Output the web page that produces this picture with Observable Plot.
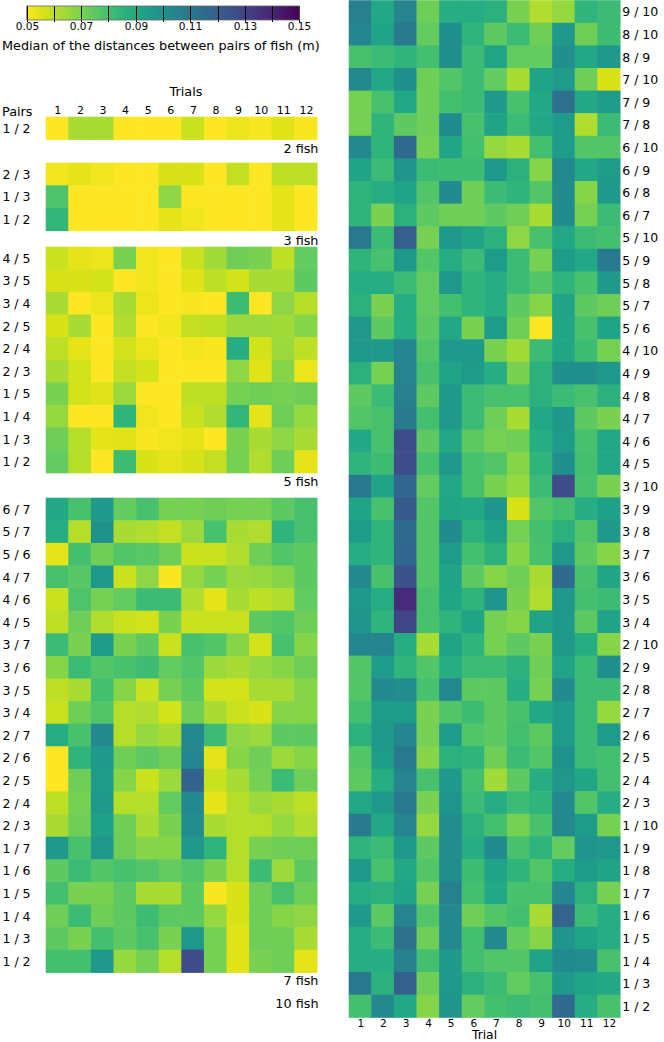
<!DOCTYPE html>
<html>
<head>
<meta charset="utf-8">
<script src="https://cdn.jsdelivr.net/npm/d3@7"></script>
<script src="https://cdn.jsdelivr.net/npm/@observablehq/plot@0.6"></script>
<style>
  html, body { margin: 0; padding: 0; background: #fff; }
  #root { position: relative; width: 664px; height: 1042px; overflow: hidden; font-family: "DejaVu Sans", sans-serif; }
  #root > * { position: absolute; }
</style>
</head>
<body>
<div id="root"></div>
<script>
// ---------------- data ----------------
const trials = [1, 2, 3, 4, 5, 6, 7, 8, 9, 10, 11, 12];

const pairs2 = ["1 / 2"];
const values2 = [
  [0.05, 0.063, 0.063, 0.05, 0.05, 0.05, 0.058, 0.05, 0.053, 0.051, 0.055, 0.051]
];

const pairs3 = ["2 / 3", "1 / 3", "1 / 2"];
const values3 = [
  [0.052, 0.054, 0.052, 0.05, 0.05, 0.056, 0.056, 0.05, 0.059, 0.05, 0.06, 0.06],
  [0.078, 0.05, 0.05, 0.05, 0.05, 0.067, 0.05, 0.05, 0.05, 0.05, 0.054, 0.05],
  [0.084, 0.05, 0.05, 0.05, 0.05, 0.054, 0.052, 0.05, 0.05, 0.05, 0.054, 0.05]
];

const pairs5 = ["4 / 5", "3 / 5", "3 / 4", "2 / 5", "2 / 4", "2 / 3", "1 / 5", "1 / 4", "1 / 3", "1 / 2"];
const values5 = [
  [0.058, 0.054, 0.053, 0.07, 0.052, 0.05, 0.058, 0.064, 0.072, 0.07, 0.06, 0.074],
  [0.056, 0.056, 0.057, 0.05, 0.052, 0.05, 0.055, 0.06, 0.057, 0.063, 0.063, 0.075],
  [0.063, 0.05, 0.053, 0.063, 0.053, 0.05, 0.051, 0.05, 0.081, 0.05, 0.067, 0.061],
  [0.056, 0.063, 0.05, 0.062, 0.05, 0.052, 0.059, 0.06, 0.065, 0.065, 0.064, 0.068],
  [0.06, 0.054, 0.05, 0.057, 0.053, 0.05, 0.052, 0.051, 0.088, 0.057, 0.065, 0.06],
  [0.063, 0.057, 0.05, 0.059, 0.057, 0.05, 0.05, 0.05, 0.067, 0.055, 0.068, 0.053],
  [0.07, 0.057, 0.055, 0.065, 0.05, 0.05, 0.06, 0.06, 0.071, 0.072, 0.071, 0.072],
  [0.066, 0.05, 0.05, 0.085, 0.052, 0.05, 0.058, 0.062, 0.084, 0.054, 0.072, 0.066],
  [0.072, 0.061, 0.054, 0.055, 0.051, 0.052, 0.054, 0.05, 0.07, 0.063, 0.067, 0.063],
  [0.074, 0.061, 0.05, 0.081, 0.056, 0.054, 0.056, 0.059, 0.071, 0.062, 0.072, 0.054]
];

const pairs7 = ["6 / 7", "5 / 7", "5 / 6", "4 / 7", "4 / 6", "4 / 5", "3 / 7", "3 / 6", "3 / 5", "3 / 4",
  "2 / 7", "2 / 6", "2 / 5", "2 / 4", "2 / 3", "1 / 7", "1 / 6", "1 / 5", "1 / 4", "1 / 3", "1 / 2"];
const values7 = [
  [0.09, 0.079, 0.096, 0.074, 0.079, 0.071, 0.071, 0.072, 0.071, 0.071, 0.075, 0.079],
  [0.088, 0.061, 0.099, 0.063, 0.062, 0.059, 0.065, 0.079, 0.063, 0.062, 0.085, 0.079],
  [0.054, 0.08, 0.072, 0.077, 0.076, 0.072, 0.058, 0.058, 0.062, 0.072, 0.077, 0.075],
  [0.079, 0.076, 0.097, 0.058, 0.067, 0.051, 0.066, 0.071, 0.065, 0.066, 0.068, 0.075],
  [0.058, 0.078, 0.071, 0.074, 0.082, 0.082, 0.062, 0.054, 0.063, 0.06, 0.062, 0.074],
  [0.06, 0.072, 0.062, 0.058, 0.057, 0.07, 0.058, 0.058, 0.058, 0.075, 0.077, 0.072],
  [0.082, 0.07, 0.095, 0.07, 0.075, 0.058, 0.079, 0.077, 0.068, 0.057, 0.079, 0.068],
  [0.068, 0.082, 0.077, 0.079, 0.081, 0.074, 0.077, 0.065, 0.063, 0.066, 0.068, 0.072],
  [0.06, 0.063, 0.08, 0.068, 0.058, 0.071, 0.075, 0.057, 0.057, 0.063, 0.063, 0.068],
  [0.058, 0.072, 0.077, 0.061, 0.062, 0.057, 0.072, 0.063, 0.058, 0.056, 0.068, 0.068],
  [0.088, 0.079, 0.103, 0.061, 0.066, 0.063, 0.103, 0.082, 0.067, 0.065, 0.075, 0.075],
  [0.05, 0.085, 0.096, 0.072, 0.075, 0.072, 0.104, 0.054, 0.068, 0.072, 0.065, 0.068],
  [0.05, 0.072, 0.095, 0.068, 0.058, 0.065, 0.119, 0.058, 0.063, 0.071, 0.082, 0.072],
  [0.06, 0.071, 0.096, 0.061, 0.061, 0.074, 0.103, 0.054, 0.061, 0.065, 0.063, 0.06],
  [0.063, 0.072, 0.093, 0.072, 0.063, 0.07, 0.101, 0.063, 0.061, 0.061, 0.066, 0.062],
  [0.096, 0.079, 0.097, 0.072, 0.068, 0.068, 0.097, 0.085, 0.061, 0.07, 0.072, 0.072],
  [0.075, 0.082, 0.077, 0.079, 0.077, 0.074, 0.077, 0.07, 0.061, 0.082, 0.065, 0.075],
  [0.08, 0.07, 0.07, 0.075, 0.063, 0.063, 0.075, 0.051, 0.056, 0.072, 0.079, 0.072],
  [0.072, 0.082, 0.072, 0.075, 0.081, 0.075, 0.075, 0.066, 0.056, 0.072, 0.068, 0.067],
  [0.075, 0.07, 0.08, 0.075, 0.079, 0.07, 0.097, 0.071, 0.055, 0.072, 0.072, 0.063],
  [0.08, 0.08, 0.097, 0.066, 0.071, 0.061, 0.127, 0.071, 0.055, 0.07, 0.072, 0.054]
];

const pairs10 = ["9 / 10", "8 / 10", "8 / 9", "7 / 10", "7 / 9", "7 / 8", "6 / 10", "6 / 9", "6 / 8", "6 / 7",
  "5 / 10", "5 / 9", "5 / 8", "5 / 7", "5 / 6", "4 / 10", "4 / 9", "4 / 8", "4 / 7", "4 / 6", "4 / 5",
  "3 / 10", "3 / 9", "3 / 8", "3 / 7", "3 / 6", "3 / 5", "3 / 4", "2 / 10", "2 / 9", "2 / 8", "2 / 7",
  "2 / 6", "2 / 5", "2 / 4", "2 / 3", "1 / 10", "1 / 9", "1 / 8", "1 / 7", "1 / 6", "1 / 5", "1 / 4",
  "1 / 3", "1 / 2"];
const values10 = [
  [0.107, 0.09, 0.105, 0.072, 0.088, 0.088, 0.086, 0.07, 0.062, 0.066, 0.085, 0.082],
  [0.104, 0.092, 0.109, 0.074, 0.1, 0.085, 0.075, 0.082, 0.072, 0.096, 0.072, 0.081],
  [0.079, 0.082, 0.085, 0.08, 0.1, 0.082, 0.091, 0.074, 0.074, 0.1, 0.09, 0.096],
  [0.103, 0.09, 0.1, 0.072, 0.077, 0.082, 0.074, 0.063, 0.092, 0.095, 0.072, 0.056],
  [0.071, 0.079, 0.09, 0.072, 0.08, 0.082, 0.096, 0.079, 0.09, 0.113, 0.09, 0.095],
  [0.071, 0.085, 0.075, 0.072, 0.102, 0.079, 0.092, 0.082, 0.09, 0.095, 0.062, 0.082],
  [0.103, 0.085, 0.116, 0.071, 0.091, 0.08, 0.066, 0.063, 0.08, 0.095, 0.077, 0.077],
  [0.092, 0.082, 0.098, 0.082, 0.081, 0.081, 0.096, 0.086, 0.068, 0.103, 0.09, 0.095],
  [0.085, 0.088, 0.092, 0.077, 0.102, 0.072, 0.082, 0.085, 0.077, 0.102, 0.068, 0.096],
  [0.085, 0.07, 0.086, 0.075, 0.072, 0.072, 0.075, 0.072, 0.063, 0.102, 0.071, 0.082],
  [0.11, 0.082, 0.12, 0.071, 0.096, 0.092, 0.086, 0.067, 0.079, 0.09, 0.082, 0.08],
  [0.085, 0.079, 0.097, 0.077, 0.088, 0.082, 0.095, 0.082, 0.071, 0.095, 0.09, 0.109],
  [0.088, 0.088, 0.082, 0.074, 0.097, 0.085, 0.088, 0.082, 0.077, 0.085, 0.079, 0.096],
  [0.086, 0.07, 0.088, 0.074, 0.08, 0.085, 0.088, 0.075, 0.068, 0.092, 0.075, 0.072],
  [0.097, 0.075, 0.088, 0.075, 0.09, 0.07, 0.095, 0.072, 0.05, 0.091, 0.079, 0.092],
  [0.097, 0.096, 0.104, 0.077, 0.096, 0.096, 0.07, 0.064, 0.082, 0.091, 0.081, 0.071],
  [0.086, 0.071, 0.105, 0.079, 0.092, 0.095, 0.088, 0.07, 0.086, 0.1, 0.1, 0.097],
  [0.075, 0.082, 0.107, 0.075, 0.096, 0.082, 0.079, 0.079, 0.086, 0.082, 0.079, 0.086],
  [0.077, 0.079, 0.109, 0.08, 0.096, 0.082, 0.072, 0.063, 0.09, 0.096, 0.075, 0.07],
  [0.09, 0.079, 0.127, 0.075, 0.09, 0.075, 0.071, 0.072, 0.088, 0.095, 0.079, 0.09],
  [0.085, 0.081, 0.127, 0.079, 0.096, 0.079, 0.077, 0.068, 0.085, 0.1, 0.08, 0.09],
  [0.11, 0.092, 0.117, 0.074, 0.09, 0.079, 0.07, 0.066, 0.082, 0.127, 0.079, 0.07],
  [0.092, 0.079, 0.122, 0.077, 0.091, 0.09, 0.098, 0.056, 0.077, 0.08, 0.088, 0.093],
  [0.095, 0.085, 0.116, 0.077, 0.102, 0.086, 0.093, 0.071, 0.08, 0.086, 0.077, 0.096],
  [0.088, 0.085, 0.117, 0.077, 0.095, 0.08, 0.086, 0.068, 0.079, 0.097, 0.075, 0.068],
  [0.103, 0.079, 0.125, 0.077, 0.092, 0.075, 0.068, 0.072, 0.063, 0.116, 0.079, 0.091],
  [0.096, 0.088, 0.138, 0.079, 0.091, 0.085, 0.098, 0.07, 0.062, 0.097, 0.08, 0.082],
  [0.098, 0.085, 0.13, 0.079, 0.085, 0.092, 0.071, 0.068, 0.092, 0.096, 0.075, 0.092],
  [0.104, 0.105, 0.088, 0.063, 0.092, 0.085, 0.071, 0.075, 0.07, 0.096, 0.088, 0.068],
  [0.077, 0.095, 0.085, 0.077, 0.088, 0.082, 0.082, 0.086, 0.072, 0.092, 0.082, 0.1],
  [0.077, 0.103, 0.101, 0.079, 0.103, 0.075, 0.075, 0.088, 0.071, 0.102, 0.082, 0.082],
  [0.08, 0.095, 0.095, 0.07, 0.077, 0.081, 0.075, 0.079, 0.09, 0.095, 0.082, 0.066],
  [0.086, 0.096, 0.104, 0.071, 0.095, 0.077, 0.075, 0.08, 0.075, 0.095, 0.082, 0.095],
  [0.077, 0.095, 0.11, 0.068, 0.086, 0.085, 0.072, 0.082, 0.077, 0.099, 0.082, 0.08],
  [0.075, 0.088, 0.105, 0.079, 0.096, 0.08, 0.064, 0.075, 0.088, 0.097, 0.091, 0.08],
  [0.09, 0.096, 0.11, 0.07, 0.098, 0.082, 0.088, 0.082, 0.085, 0.103, 0.077, 0.088],
  [0.109, 0.09, 0.105, 0.066, 0.101, 0.086, 0.08, 0.071, 0.079, 0.103, 0.095, 0.071],
  [0.085, 0.082, 0.096, 0.075, 0.101, 0.088, 0.102, 0.079, 0.085, 0.074, 0.098, 0.097],
  [0.096, 0.079, 0.09, 0.077, 0.101, 0.081, 0.092, 0.085, 0.077, 0.088, 0.095, 0.092],
  [0.088, 0.086, 0.092, 0.071, 0.107, 0.08, 0.09, 0.079, 0.079, 0.104, 0.086, 0.071],
  [0.096, 0.075, 0.105, 0.077, 0.103, 0.072, 0.077, 0.08, 0.063, 0.118, 0.082, 0.088],
  [0.088, 0.082, 0.113, 0.072, 0.103, 0.08, 0.103, 0.074, 0.068, 0.098, 0.092, 0.088],
  [0.088, 0.088, 0.107, 0.08, 0.096, 0.08, 0.077, 0.077, 0.092, 0.102, 0.101, 0.079],
  [0.11, 0.086, 0.12, 0.072, 0.096, 0.086, 0.082, 0.074, 0.079, 0.096, 0.092, 0.09],
  [0.08, 0.103, 0.09, 0.068, 0.098, 0.074, 0.08, 0.082, 0.08, 0.116, 0.088, 0.079]
];

const colorDomain = [0.05, 0.15];
const cbTicks = [0.05, 0.06, 0.07, 0.08, 0.09, 0.10, 0.11, 0.12, 0.13, 0.14, 0.15];
const cbLabels = ["0.05", "", "0.07", "", "0.09", "", "0.11", "", "0.13", "", "0.15"];
const cbTitle = "Median of the distances between pairs of fish (m)";

// ---------------- layout ----------------
const FONT = "DejaVu Sans";
const CELL = 22.6;
const root = document.getElementById("root");
const colorOpts = { type: "linear", scheme: "viridis", reverse: true, domain: colorDomain, clamp: true };

function table(pairs, values) {
  return pairs.flatMap((p, i) => trials.map((t, j) => ({ pair: p, trial: t, value: values[i][j] })));
}

function place(node, left, top) {
  node.style.position = "absolute";
  node.style.left = left + "px";
  node.style.top = top + "px";
  root.appendChild(node);
}

function leftPanel(pairs, values, top, withTop) {
  const mt = withTop ? 20 : 0;
  const W = 320, ML = 46;
  const marks = [
    Plot.cell(table(pairs, values), { x: "trial", y: "pair", fill: "value", inset: -0.3 }),
    Plot.axisY({ anchor: "left", tickSize: 0, tickPadding: 16, fontSize: 12.5, label: null })
  ];
  if (withTop) marks.push(Plot.axisX({ anchor: "top", tickSize: 0, tickPadding: 3, fontSize: 11, label: null }));
  const svg = Plot.plot({
    width: W,
    height: mt + pairs.length * CELL,
    marginLeft: ML,
    marginRight: W - ML - 12 * CELL,
    marginTop: mt,
    marginBottom: 0,
    x: { type: "band", domain: trials, padding: 0, round: false, axis: withTop ? undefined : null },
    y: { type: "band", domain: pairs, padding: 0, round: false },
    color: colorOpts,
    style: { fontFamily: FONT, color: "#000", background: "transparent", overflow: "visible" },
    marks
  });
  place(svg, 0, top - mt);
}

leftPanel(pairs2, values2, 117.3, true);
leftPanel(pairs3, values3, 162.7, false);
leftPanel(pairs5, values5, 246.7, false);
leftPanel(pairs7, values7, 498, false);

// right: 10 fish
{
  const W = 319, H = 1042, ML = 4, MT = 0.5;
  const svg = Plot.plot({
    width: W,
    height: H,
    marginLeft: ML,
    marginRight: W - ML - 12 * CELL,
    marginTop: MT,
    marginBottom: H - MT - 45 * CELL,
    x: { type: "band", domain: trials, padding: 0, round: false },
    y: { type: "band", domain: pairs10, padding: 0, round: false },
    color: colorOpts,
    style: { fontFamily: FONT, color: "#000", background: "transparent", overflow: "visible" },
    marks: [
      Plot.cell(table(pairs10, values10), { x: "trial", y: "pair", fill: "value", inset: -0.3 }),
      Plot.axisY({ anchor: "right", tickSize: 0, tickPadding: 1.5, fontSize: 12.5, label: null }),
      Plot.axisX({ anchor: "bottom", tickSize: 0, tickPadding: 2, fontSize: 10.5, label: null })
    ]
  });
  place(svg, 345, 0);
}

// colour bar
{
  const leg = Plot.legend({
    color: colorOpts,
    width: 302,
    height: 36,
    marginTop: 6,
    marginBottom: 16,
    marginLeft: 26.7,
    marginRight: 2.7,
    ticks: cbTicks,
    tickFormat: d => cbLabels[cbTicks.findIndex(t => Math.abs(t - d) < 1e-9)],
    tickSize: 2,
    label: null,
    style: { fontFamily: FONT, fontSize: "10.5px", color: "#000", background: "transparent", overflow: "visible" }
  });
  const s = d3.select(leg);
  s.selectAll(".tick text").attr("y", 2.5);
  s.append("rect")
    .attr("x", 26.7).attr("y", 6)
    .attr("width", 302 - 26.7 - 2.7).attr("height", 14)
    .attr("fill", "none").attr("stroke", "#666").attr("stroke-width", 0.8);
  place(leg, 0, 0);
}

// titles and panel labels
{
  const ov = d3.create("svg")
    .attr("width", 664).attr("height", 1042)
    .style("font-family", FONT).style("pointer-events", "none");
  const texts = [
    { t: cbTitle, x: 2, y: 49.5, a: "start", s: 12.8 },
    { t: "Trials", x: 186, y: 96, a: "middle", s: 12.8 },
    { t: "Pairs", x: 2, y: 115.8, a: "start", s: 12.8 },
    { t: "2 fish", x: 318.5, y: 153.3, a: "end", s: 12.8 },
    { t: "3 fish", x: 318.5, y: 245, a: "end", s: 12.8 },
    { t: "5 fish", x: 318.5, y: 486, a: "end", s: 12.8 },
    { t: "7 fish", x: 318.5, y: 985, a: "end", s: 12.8 },
    { t: "10 fish", x: 318.5, y: 1008, a: "end", s: 12.8 },
    { t: "Trial", x: 484.5, y: 1039, a: "middle", s: 12.3 }
  ];
  ov.selectAll("text").data(texts).join("text")
    .attr("x", d => d.x).attr("y", d => d.y)
    .attr("text-anchor", d => d.a)
    .attr("font-size", d => d.s)
    .attr("fill", "#000")
    .text(d => d.t);
  place(ov.node(), 0, 0);
}
</script>
</body>
</html>
